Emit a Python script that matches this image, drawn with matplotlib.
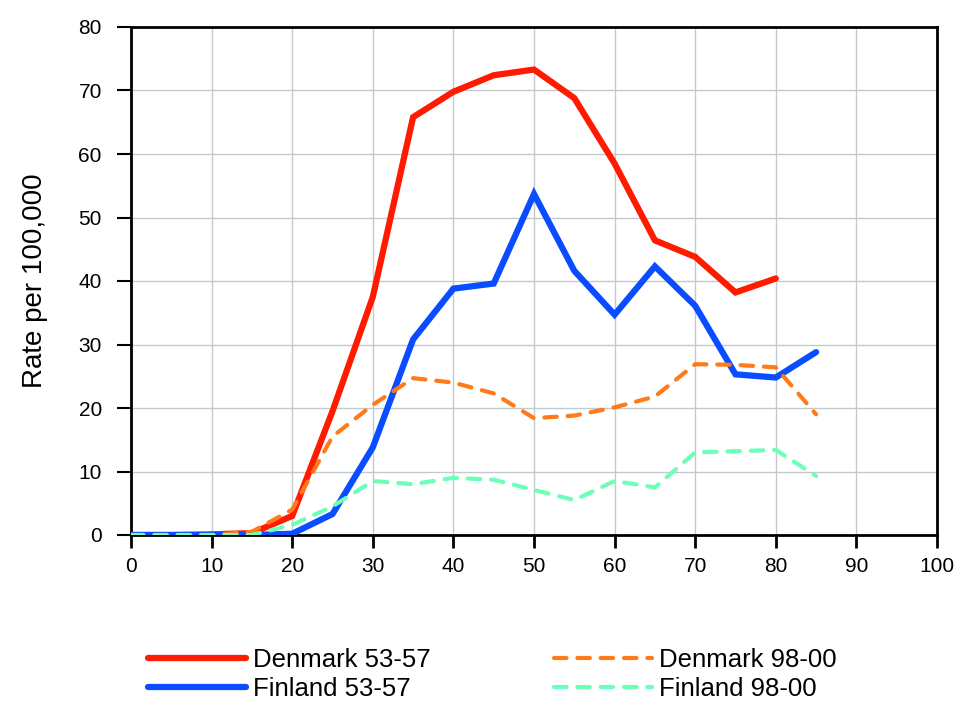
import numpy as np
import matplotlib.pyplot as plt

# age groups (x) and rates per 100,000
age = [0, 5, 10, 15, 20, 25, 30, 35, 40, 45, 50, 55, 60, 65, 70, 75, 80, 85]

denmark_53 = [0, 0, 0.1, 0.3, 3.0, 19.5, 37.5, 65.8, 69.8, 72.4, 73.3, 68.8, 58.5, 46.4, 43.8, 38.2, 40.4]
finland_53 = [0, 0, 0, 0, 0.2, 3.3, 13.8, 30.8, 38.8, 39.6, 53.7, 41.6, 34.7, 42.3, 36.1, 25.3, 24.8, 28.8]
denmark_98 = [0, 0, 0, 0.5, 4.0, 15.5, 20.5, 24.7, 24.0, 22.3, 18.4, 18.8, 20.1, 21.8, 26.9, 26.8, 26.4, 19.0]
finland_98 = [0, 0, 0, 0, 1.6, 4.5, 8.5, 8.0, 9.0, 8.7, 7.1, 5.5, 8.5, 7.5, 13.0, 13.2, 13.4, 9.3]

labels = ["Denmark 53-57", "Finland 53-57", "Denmark 98-00", "Finland 98-00"]
colors = ["#ff1a00", "#0a4cff", "#ff7a1a", "#6cffb8"]

plt.rcParams['font.family'] = ['Liberation Sans', 'DejaVu Sans']

fig = plt.figure(figsize=(9.61, 7.03), dpi=100)
ax = fig.add_axes([131 / 961, 1 - 535 / 703, (937 - 131) / 961, (535 - 27) / 703])

lines = []
lines += ax.plot(age[:len(denmark_53)], denmark_53, color=colors[0], lw=4.5,
                 solid_capstyle='round', solid_joinstyle='miter', zorder=3)
lines += ax.plot(age, finland_53, color=colors[1], lw=4.5,
                 solid_capstyle='round', solid_joinstyle='miter', zorder=4)
lines += ax.plot(age, denmark_98, color=colors[2], lw=3, dashes=(3, 2.6),
                 dash_capstyle='round', zorder=5)
lines += ax.plot(age, finland_98, color=colors[3], lw=3, dashes=(3, 2.6),
                 dash_capstyle='round', zorder=6)

ax.set_xlim(0, 100)
ax.set_ylim(0, 80)
ax.set_xticks(np.arange(0, 101, 10))
ax.set_yticks(np.arange(0, 81, 10))
ax.grid(True, color='#c3cacf', lw=1)
ax.set_axisbelow(True)
for s in ax.spines.values():
    s.set_linewidth(2)
    s.set_color('black')
ax.tick_params(axis='y', direction='out', length=10, width=1.5, labelsize=15, pad=11)
ax.tick_params(axis='x', direction='out', length=9, width=2, labelsize=15, pad=7)
ax.set_ylabel("Rate per 100,000", fontsize=20, labelpad=22)

# two legend columns placed separately
leg_kw = dict(loc='upper left', frameon=False, fontsize=18.5, handlelength=3.8,
              handletextpad=0.3, labelspacing=0.2, borderpad=0, borderaxespad=0)
leg1 = fig.legend([lines[0], lines[1]], labels[:2],
                  bbox_to_anchor=(148 / 961, 1 - 648 / 703), **leg_kw)
leg2 = fig.legend([lines[2], lines[3]], labels[2:],
                  bbox_to_anchor=(554 / 961, 1 - 648 / 703), **leg_kw)

fig.savefig("out.png", dpi=100)
